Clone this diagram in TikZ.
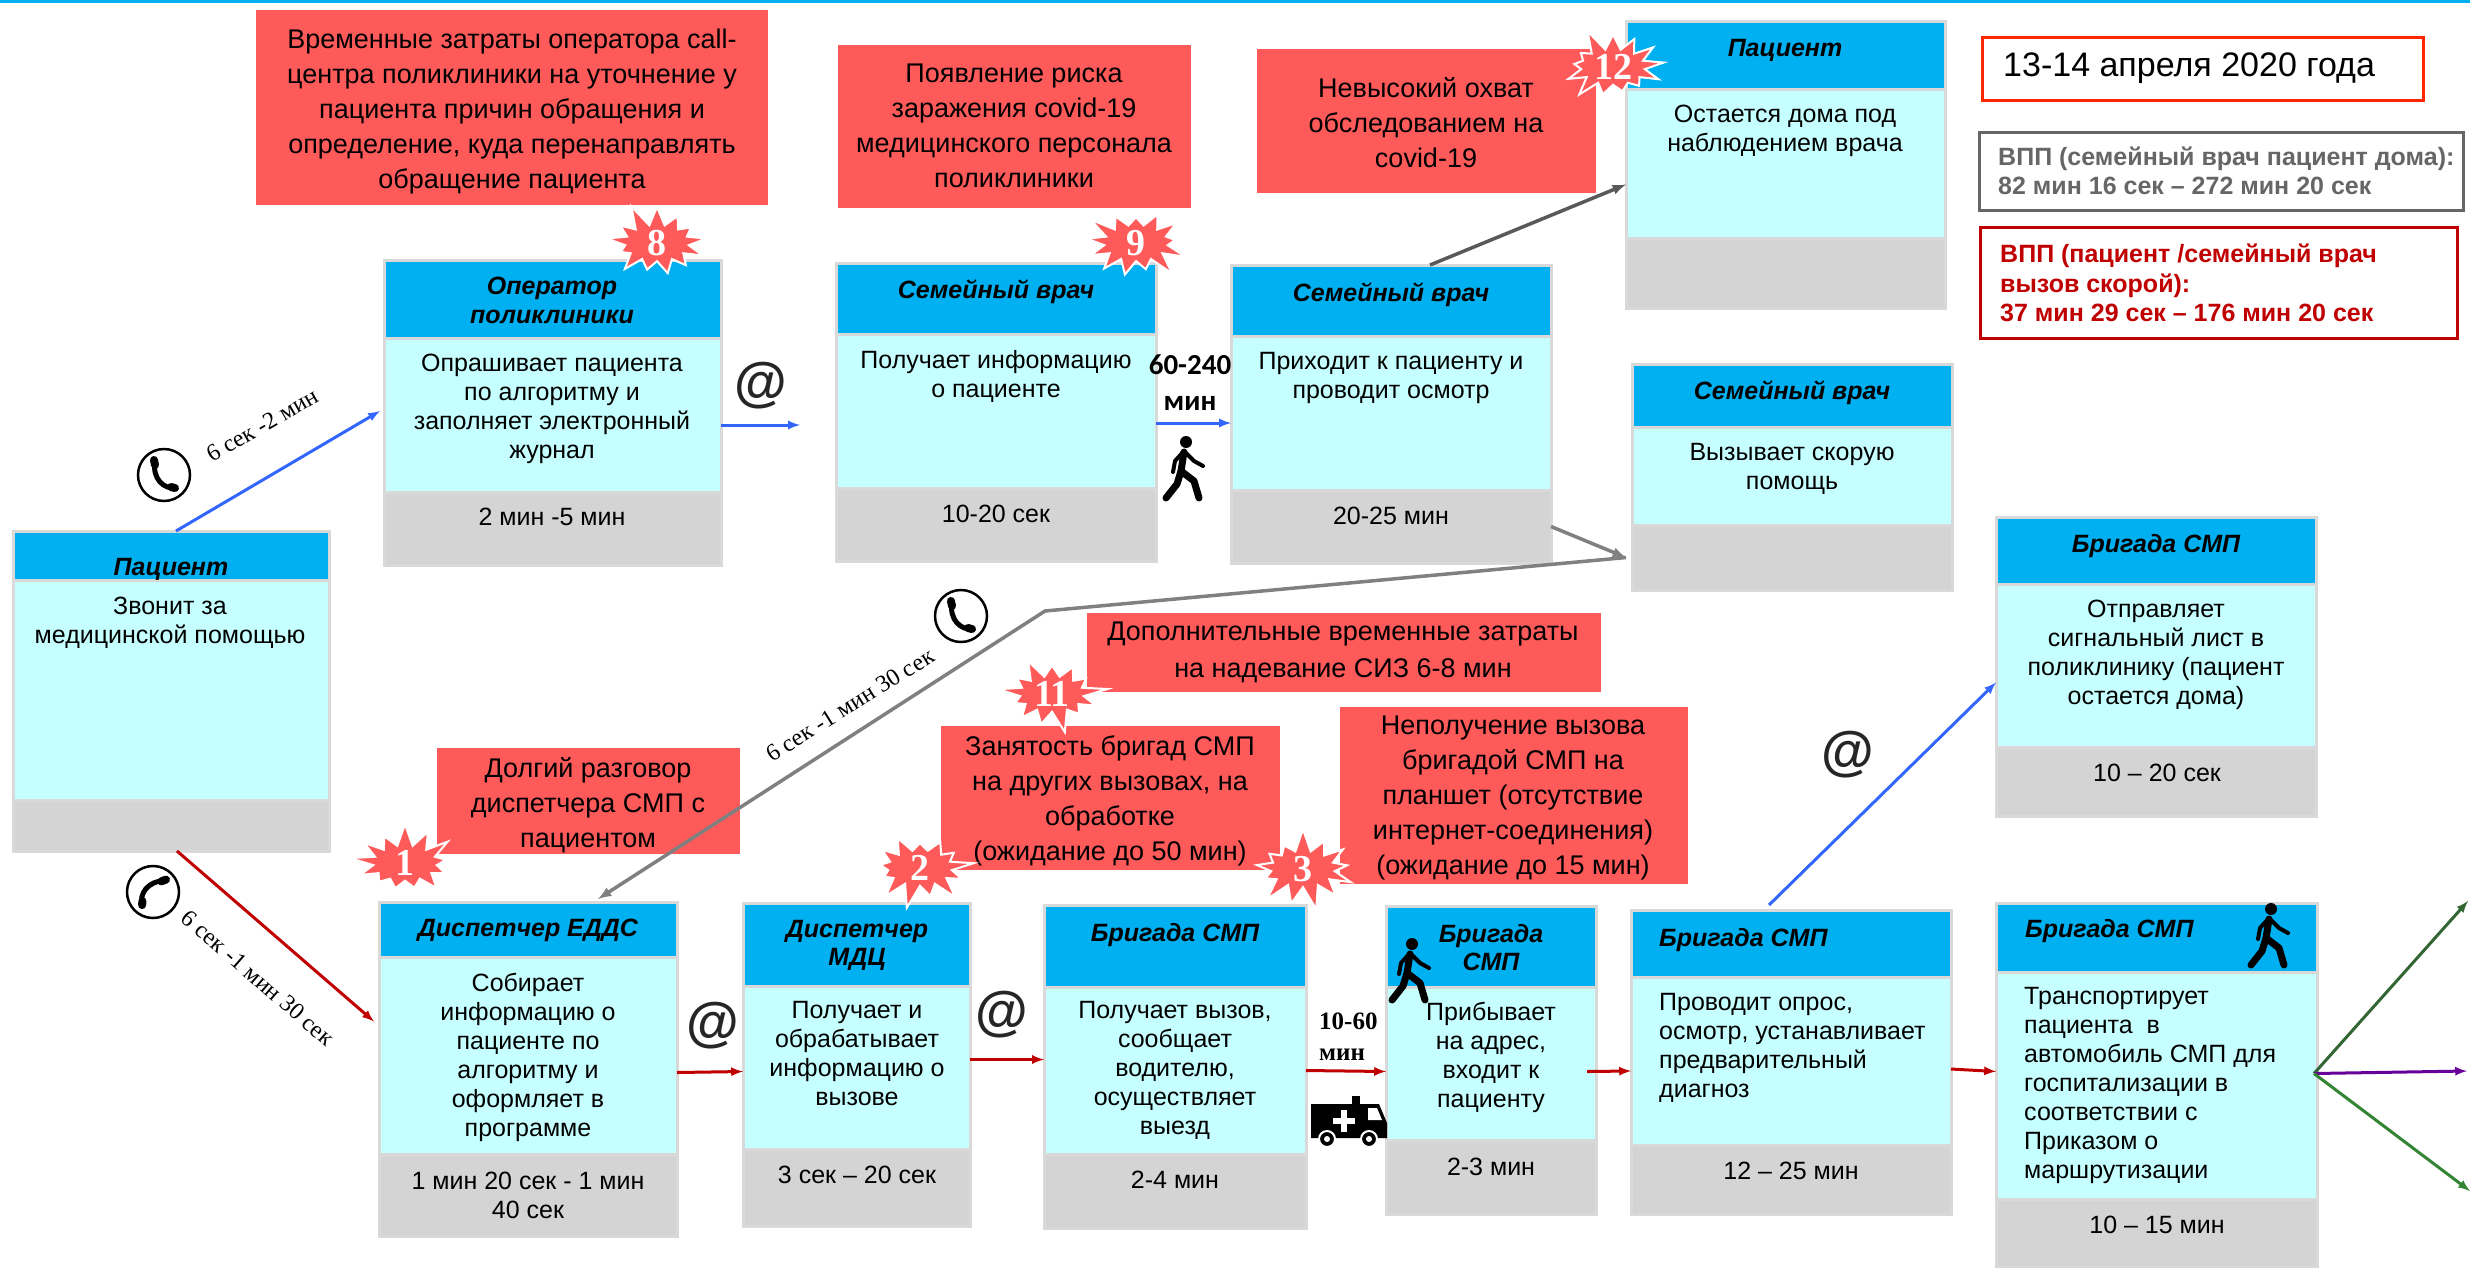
\documentclass[tikz,border=0pt]{standalone}
\usepackage{fontspec}
\setmainfont{Liberation Sans}
\newfontfamily\timesfont{Liberation Serif}
\newfontfamily\calfont{Carlito}
\usepackage{tikz}
\usetikzlibrary{arrows}
\usetikzlibrary{shapes.symbols}
\definecolor{headblue}{HTML}{00B0F0}
\definecolor{bodycyan}{HTML}{C6FFFF}
\definecolor{footgray}{HTML}{D4D4D4}
\definecolor{edgegray}{HTML}{D9D9D9}
\definecolor{alarmred}{HTML}{FF5A5A}
\definecolor{darkred}{HTML}{C00000}
\definecolor{linkblue}{HTML}{3366FF}
\tikzset{arrow/.style={->, >=latex, line width=3pt}}
\tikzset{bluearrow/.style={arrow, color=linkblue}}
\tikzset{redarrow/.style={arrow, color=darkred}}
\tikzset{grayarrow/.style={arrow, color=black!50, line width=3.5pt}}
\tikzset{tier/.style={draw=edgegray, line width=3pt, anchor=north west, inner sep=0pt, outer sep=0pt}}
\tikzset{alarm/.style={fill=alarmred, anchor=north west, inner sep=0pt, outer sep=0pt}}
\tikzset{alarmtext/.style={anchor=north, inner sep=0pt, align=center, font=\fontsize{27}{35}\selectfont}}
\tikzset{title/.style={anchor=north, inner sep=0pt, align=center, font=\fontsize{25}{28.5}\selectfont\bfseries\itshape}}
\tikzset{bodytext/.style={anchor=north, inner sep=0pt, align=center, font=\fontsize{25}{29}\selectfont}}
\tikzset{lefttext/.style={bodytext, anchor=north west, align=left}}
\tikzset{burst/.style={starburst, starburst points=13, draw=white, line width=2pt, fill=alarmred, inner sep=0pt, text=white, font=\fontsize{38}{38}\selectfont\timesfont\bfseries}}
\tikzset{slanted/.style={inner sep=0pt, font=\fontsize{24}{24}\selectfont\timesfont}}
\tikzset{atsign/.style={inner sep=0pt, text=black!85, font=\fontsize{54}{54}\selectfont\bfseries}}
\tikzset{walker/.pic={
  \fill (2,-27) circle (6pt);
  \draw[line width=7pt, line cap=round, line join=round] (0,-17) -- (-3,2) -- (-7,15) -- (-18,29);
  \draw[line width=7pt, line cap=round, line join=round] (-3,2) -- (10,12) -- (15,29);
  \draw[line width=4pt, line cap=round, line join=round] (0,-18) -- (-9,-8) -- (-11,3);
  \draw[line width=4pt, line cap=round, line join=round] (0,-18) -- (10,-8) -- (19,-3);
}}
\tikzset{phone/.pic={
  \draw[line width=2.5pt, fill=white] (0,0) circle (26pt);
  \draw[line width=5pt, line cap=round] (-9,-14) .. controls (-12,4) and (0,14) .. (11,13);
  \draw[line width=8pt, line cap=round] (-10,-15) -- (-9,-10);
  \draw[line width=8pt, line cap=round] (7,12) -- (11,13);
}}
\tikzset{ambulance/.pic={
  \fill (-38,-17) -- (30,-17) -- (38,2) -- (38,17) -- (-38,17) -- cycle;
  \fill (3,-25) rectangle (11,-17);
  \fill[white] (19,-13) -- (28,-13) -- (33,-1) -- (19,-1) -- cycle;
  \fill[white] (-8,-11) rectangle (-2,11);
  \fill[white] (-16,-3) rectangle (6,3);
  \draw[line width=2pt, draw=white, fill=black] (-22,18) circle (8pt);
  \draw[line width=2pt, draw=white, fill=black] (20,18) circle (8pt);
  \fill[white] (-22,18) circle (3pt);
  \fill[white] (20,18) circle (3pt);
}}
\newcommand{\tiers}[7]{
  \pgfmathsetmacro{\tw}{#3-#2}
  \pgfmathsetmacro{\ha}{#5-#4}
  \pgfmathsetmacro{\hb}{#6-#5}
  \pgfmathsetmacro{\hc}{#7-#6}
  \node[tier, fill=footgray, minimum width=\tw pt, minimum height=\hc pt] (#1-f) at (#2,#6) {};
  \node[tier, fill=bodycyan, minimum width=\tw pt, minimum height=\hb pt] (#1-b) at (#2,#5) {};
  \node[tier, fill=headblue, minimum width=\tw pt, minimum height=\ha pt] (#1-h) at (#2,#4) {};
}
\newcommand{\alarmbox}[5]{
  \pgfmathsetmacro{\tw}{#4-#2}
  \pgfmathsetmacro{\ha}{#5-#3}
  \node[alarm, minimum width=\tw pt, minimum height=\ha pt] (#1) at (#2,#3) {};
}

\begin{document}
\begin{tikzpicture}[x=1pt, y=-1pt]
\useasboundingbox (0,0) rectangle (2470,1267);
\fill[headblue] (0,0) rectangle (2470,2.5);

\alarmbox{warn8}{256}{10}{768}{205}
\alarmbox{warn12}{1257}{49}{1596}{193}
\alarmbox{warn11}{1087}{613}{1601}{692}
\alarmbox{warn2}{941}{726}{1280}{870}
\alarmbox{warn3}{1340}{707}{1688}{884}
\alarmbox{warn1}{437}{748}{740}{854}

\node[alarmtext] (warn2-t) at (1110,735) {Занятость бригад СМП\\на других вызовах, на\\обработке\\(ожидание до 50 мин)};
\node[alarmtext] (warn3-t) at (1513,716) {Неполучение вызова\\бригадой СМП на\\планшет (отсутствие\\интернет-соединения)\\(ожидание до 15 мин)};
\node[burst, minimum width=112pt, minimum height=62pt, starburst point height=24pt, random starburst=7] (star3) at (1303,869) {3};

\tiers{pat}{13}{329}{531}{580}{800}{851}
\tiers{oper}{384}{721}{260}{338}{492}{565}
\tiers{fam}{836}{1156}{263}{334}{488}{561}
\tiers{visit}{1231}{1551}{265}{336}{490}{563}
\tiers{home}{1626}{1945}{21}{89}{238}{308}
\tiers{call}{1632}{1952}{364}{427}{525}{590}
\tiers{sig}{1996}{2316}{517}{584}{747}{816}
\tiers{edds}{379}{677}{902}{957}{1154}{1236}
\tiers{mdc}{743}{970}{903}{986}{1149}{1226}
\tiers{crew}{1044}{1306}{905}{987}{1154}{1228}
\tiers{arr}{1386}{1596}{906}{987}{1140}{1214}
\tiers{exam}{1631}{1951}{910}{977}{1145}{1214}
\tiers{trans}{1996}{2317}{903}{972}{1199}{1267}

\node[burst, minimum width=112pt, minimum height=62pt, starburst point height=24pt, random starburst=3] (star9) at (1136,243) {9};
\alarmbox{warn9}{838}{45}{1191}{208}

\node[alarmtext] (warn8-t) at (512,29) {Временные затраты оператора call-\\центра поликлиники на уточнение у\\пациента причин обращения и\\определение, куда перенаправлять\\обращение пациента};
\node[alarmtext] (warn9-t) at (1014,64) {Появление риска\\заражения covid-19\\медицинского персонала\\поликлиники};
\node[alarmtext] (warn12-t) at (1426,77) {Невысокий охват\\обследованием на\\covid-19};
\node[alarmtext, font=\fontsize{27}{37}\selectfont] (warn11-t) at (1343,622) {Дополнительные временные затраты\\на надевание СИЗ 6-8 мин};
\node[alarmtext] (warn1-t) at (588,757) {Долгий разговор\\диспетчера СМП с\\пациентом};

\node[title] (pat-t) at (171,596) [yshift=38pt] {Пациент};
\node[bodytext] (pat-x) at (170,597) {Звонит за\\медицинской помощью};
\node[title] (oper-t) at (552,277) {Оператор\\поликлиники};
\node[bodytext] (oper-x) at (552,354) {Опрашивает пациента\\по алгоритму и\\заполняет электронный\\журнал};
\node[bodytext] (oper-y) at (552,508) {2 мин -5 мин};
\node[title] (fam-t) at (996,280) {Семейный врач};
\node[bodytext] (fam-x) at (996,350) {Получает информацию\\о пациенте};
\node[bodytext] (fam-y) at (996,505) {10-20 сек};
\node[title] (visit-t) at (1391,283) {Семейный врач};
\node[bodytext] (visit-x) at (1391,352) {Приходит к пациенту и\\проводит осмотр};
\node[bodytext] (visit-y) at (1391,507) {20-25 мин};
\node[title] (home-t) at (1785,39) {Пациент};
\node[bodytext] (home-x) at (1785,105) {Остается дома под\\наблюдением врача};
\node[title] (call-t) at (1792,381) {Семейный врач};
\node[bodytext] (call-x) at (1792,443) {Вызывает скорую\\помощь};
\node[title] (sig-t) at (2156,534) {Бригада СМП};
\node[bodytext] (sig-x) at (2156,600) {Отправляет\\сигнальный лист в\\поликлинику (пациент\\остается дома)};
\node[bodytext] (sig-y) at (2157,764) {10 – 20 сек};
\node[title] (edds-t) at (528,919) {Диспетчер ЕДДС};
\node[bodytext] (edds-x) at (528,973) {Собирает\\информацию о\\пациенте по\\алгоритму и\\оформляет в\\программе};
\node[bodytext] (edds-y) at (528,1172) {1 мин 20 сек - 1 мин\\40 сек};
\node[title] (mdc-t) at (857,920) {Диспетчер\\МДЦ};
\node[bodytext] (mdc-x) at (857,1001) {Получает и\\обрабатывает\\информацию о\\вызове};
\node[bodytext] (mdc-y) at (857,1166) {3 сек – 20 сек};
\node[title] (crew-t) at (1175,923) {Бригада СМП};
\node[bodytext] (crew-x) at (1175,1001) {Получает вызов,\\сообщает\\водителю,\\осуществляет\\выезд};
\node[bodytext] (crew-y) at (1175,1171) {2-4 мин};
\node[title] (arr-t) at (1491,924) {Бригада\\СМП};
\node[bodytext] (arr-x) at (1491,1002) {Прибывает\\на адрес,\\входит к\\пациенту};
\node[bodytext] (arr-y) at (1491,1158) {2-3 мин};
\node[title, anchor=north west] (exam-t) at (1659,928) {Бригада СМП};
\node[lefttext] (exam-x) at (1659,993) {Проводит опрос,\\осмотр, устанавливает\\предварительный\\диагноз};
\node[bodytext] (exam-y) at (1791,1162) {12 – 25 мин};
\node[title, anchor=north west] (trans-t) at (2025,919) {Бригада СМП};
\node[lefttext] (trans-x) at (2024,987) {Транспортирует\\пациента\ \ в\\автомобиль СМП для\\госпитализации в\\соответствии с\\Приказом о\\маршрутизации};
\node[bodytext] (trans-y) at (2157,1216) {10 – 15 мин};

\node[draw=orange!30!red, line width=3pt, anchor=north west, inner sep=0pt, minimum width=441pt, minimum height=63pt] (datebox) at (1981,36) {};
\node[inner sep=0pt, anchor=west, font=\fontsize{34}{34}\selectfont] (date-t) at (2003,68) {13-14 апреля 2020 года};
\node[draw=black!60, line width=3pt, anchor=north west, inner sep=0pt, minimum width=484pt, minimum height=78pt] (grayinfo) at (1978,131) {};
\node[inner sep=0pt, anchor=north west, align=left, text=black!60, font=\fontsize{25}{29}\selectfont\bfseries] (gray-t) at (1998,147) {ВПП (семейный врач пациент дома):\\82 мин 16 сек – 272 мин 20 сек};
\node[draw=darkred, line width=3pt, anchor=north west, inner sep=0pt, minimum width=477pt, minimum height=111pt] (redinfo) at (1979,226) {};
\node[inner sep=0pt, anchor=north west, align=left, text=darkred, font=\fontsize{25}{29.5}\selectfont\bfseries] (red-t) at (2000,244) {ВПП (пациент /семейный врач\\вызов скорой):\\37 мин 29 сек – 176 мин 20 сек};

\coordinate (mailend) at (800,425);
\coordinate (bendpt) at (1045,611);
\coordinate (hospa) at (2468,901);
\coordinate (hospb) at (2467,1071);
\coordinate (hospc) at (2470,1191);

\draw[bluearrow] ([xshift=5pt]pat-h.north) -- ([xshift=-4pt, yshift=4pt]oper-b.west);
\draw[bluearrow] (oper-b.east |- mailend) -- (mailend);
\draw[bluearrow] ([yshift=-12pt]fam-b.east) -- ([yshift=-10pt]visit-b.west);
\draw[grayarrow, color=black!65] ([xshift=39pt]visit-h.north) -- ([yshift=-21pt]home-b.west);
\draw[grayarrow] (visit-f.east) -- ([xshift=-6pt]call-f.west);
\draw[grayarrow] ([xshift=-6pt]call-f.west) -- (bendpt) -- ([xshift=70pt, yshift=3pt]edds-h.north);
\draw[redarrow] ([xshift=6pt]pat-f.south) -- ([xshift=-5pt, yshift=34pt]edds-b.west);
\draw[redarrow] ([yshift=-17pt]edds-b.east) -- ([yshift=-4pt]mdc-b.west);
\draw[redarrow] ([yshift=8pt]mdc-b.east) -- ([yshift=11pt]crew-b.west);
\draw[redarrow] (crew-b.east) -- ([yshift=-8pt]arr-b.west);
\draw[redarrow] ([xshift=-9pt, yshift=-8pt]arr-b.east) -- ([yshift=-10pt]exam-b.west);
\draw[redarrow] ([yshift=-8pt]exam-b.east) -- ([yshift=14pt]trans-b.west);
\draw[bluearrow] ([xshift=-22pt, yshift=5pt]exam-h.north) -- ([yshift=-17pt]sig-b.west);
\draw[arrow, color=green!25!black!80] ([xshift=-3pt, yshift=12pt]trans-b.east) -- (hospa);
\draw[arrow, color=violet!80!blue] ([xshift=-3pt, yshift=12pt]trans-b.east) -- (hospb);
\draw[arrow, color=green!40!black!80] ([xshift=-3pt, yshift=12pt]trans-b.east) -- (hospc);

\node[slanted, rotate=30] (lab-a) at (262,425) {6 сек -2 мин};
\node[slanted, rotate=-41] (lab-b) at (258,978) {6 сек -1 мин 30 сек};
\node[slanted, rotate=32] (lab-c) at (850,705) {6 сек -1 мин 30 сек};
\node[inner sep=0pt, align=center, font=\fontsize{29}{36}\selectfont\calfont\bfseries] (walk-t) at (1190,383) {60-240\\мин};
\node[inner sep=0pt, anchor=north west, align=left, font=\fontsize{25}{31}\selectfont\timesfont\bfseries] (drive-t) at (1319,1013) {10-60\\мин};

\node[atsign] (at-a) at (761,386) {@};
\node[atsign] (at-b) at (713,1026) {@};
\node[atsign] (at-c) at (1002,1015) {@};
\node[atsign] (at-d) at (1848,755) {@};

\pic at (164,475) {phone};
\pic[rotate=-80] at (153,892) {phone};
\pic at (961,616) {phone};
\pic at (1184,469) {walker};
\pic at (1410,971) {walker};
\pic at (2269,936) {walker};
\pic at (1349,1121) {ambulance};

\node[burst, minimum width=112pt, minimum height=62pt, starburst point height=24pt, random starburst=11] (star8) at (657,243) {8};
\node[burst, minimum width=112pt, minimum height=62pt, starburst point height=24pt, random starburst=5] (star12) at (1613,67) {12};
\node[burst, minimum width=112pt, minimum height=62pt, starburst point height=24pt, random starburst=9] (star11) at (1052,694) {11};
\node[burst, minimum width=112pt, minimum height=62pt, starburst point height=24pt, random starburst=13] (star2) at (920,868) {2};
\node[burst, minimum width=112pt, minimum height=62pt, starburst point height=24pt, random starburst=17] (star1) at (405,863) {1};
\end{tikzpicture}
\end{document}
